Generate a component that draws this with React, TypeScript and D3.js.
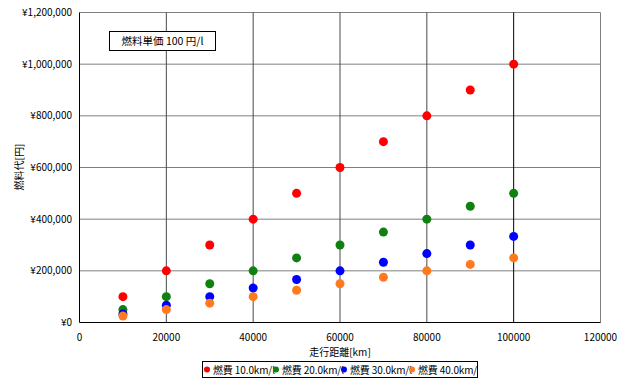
import React from "react";
import * as d3 from "d3";

const distances = [10000, 20000, 30000, 40000, 50000, 60000, 70000, 80000, 90000, 100000];
const fuel10 = [100000, 200000, 300000, 400000, 500000, 600000, 700000, 800000, 900000, 1000000];
const fuel20 = [50000, 100000, 150000, 200000, 250000, 300000, 350000, 400000, 450000, 500000];
const fuel30 = [33333, 66667, 100000, 133333, 166667, 200000, 233333, 266667, 300000, 333333];
const fuel40 = [25000, 50000, 75000, 100000, 125000, 150000, 175000, 200000, 225000, 250000];
const seriesNames = ["燃費 10.0km/l", "燃費 20.0km/l", "燃費 30.0km/l", "燃費 40.0km/l"];
const seriesColors = ["#ff0000", "#108010", "#0000ff", "#ff7a1e"];
const xTicks = [0, 20000, 40000, 60000, 80000, 100000, 120000];
const yTicks = [0, 200000, 400000, 600000, 800000, 1000000, 1200000];

const FONT = "'Noto Sans CJK JP', 'DejaVu Sans', sans-serif";

export default function App() {
  const W = 624, H = 383;
  const left = 79.5, right = 600.5, top = 12.5, bottom = 322.5;
  const x = d3.scaleLinear().domain([0, 120000]).range([left, right]);
  const y = d3.scaleLinear().domain([0, 1200000]).range([bottom, top]);
  const allSeries = [fuel10, fuel20, fuel30, fuel40];
  const yen = (v: number) => "¥" + d3.format(",")(v);
  const legendX = [207, 276, 344, 412];

  return (
    <svg width={W} height={H} style={{ position: "absolute", left: 0, top: 0, background: "#fff" }}>
      <rect x={0} y={0} width={W} height={H} fill="#fff" />
      {yTicks.slice(1).map((t) => (
        <line key={"hy" + t} x1={left} x2={right} y1={y(t)} y2={y(t)} stroke="#7f7f7f" strokeWidth={1} />
      ))}
      {xTicks.slice(1).map((t) => (
        <line key={"vx" + t} x1={x(t)} x2={x(t)} y1={top} y2={bottom}
          stroke={t === 100000 ? "#000" : t === 120000 ? "#7f7f7f" : "#4a4a4a"} strokeWidth={1} />
      ))}
      <line x1={left} x2={left} y1={top} y2={bottom} stroke="#000" />
      <line x1={left} x2={right} y1={bottom} y2={bottom} stroke="#000" />
      {yTicks.map((t) => (
        <text key={"yl" + t} x={72} y={y(t) + 3.5} textAnchor="end" fontSize={10} fontFamily={FONT} fill="#000">
          {yen(t)}
        </text>
      ))}
      {xTicks.map((t) => (
        <text key={"xl" + t} x={x(t)} y={341} textAnchor="middle" fontSize={10} fontFamily={FONT} fill="#000">
          {String(t)}
        </text>
      ))}
      <text x={340} y={356} textAnchor="middle" fontSize={10} fontFamily={FONT} fill="#000">走行距離[km]</text>
      <text transform="translate(23,167) rotate(-90)" textAnchor="middle" fontSize={10} fontFamily={FONT} fill="#000">燃料代[円]</text>
      {allSeries.map((s, si) =>
        s.map((v, i) => (
          <circle key={si + "-" + i} cx={x(distances[i])} cy={y(v)} r={4.5} fill={seriesColors[si]} />
        ))
      )}
      <rect x={109.5} y={31.5} width={106} height={19} fill="#fff" stroke="#000" />
      <text x={162.5} y={45} textAnchor="middle" fontSize={10.5} fontFamily={FONT} fill="#000">燃料単価 100 円/l</text>
      <defs>
        <clipPath id="lg">
          <rect x={202} y={361} width={276} height={17} />
        </clipPath>
      </defs>
      <rect x={202.5} y={361.5} width={275} height={16} fill="#fff" stroke="#000" />
      <g clipPath="url(#lg)">
        {seriesNames.map((n, i) => (
          <g key={n}>
            <text x={legendX[i] + 6} y={373.5} fontSize={10} fontFamily={FONT} fill="#000"
              textLength={62} lengthAdjust="spacing">{n}</text>
            <circle cx={legendX[i]} cy={369.5} r={3} fill={seriesColors[i]} />
          </g>
        ))}
      </g>
    </svg>
  );
}
